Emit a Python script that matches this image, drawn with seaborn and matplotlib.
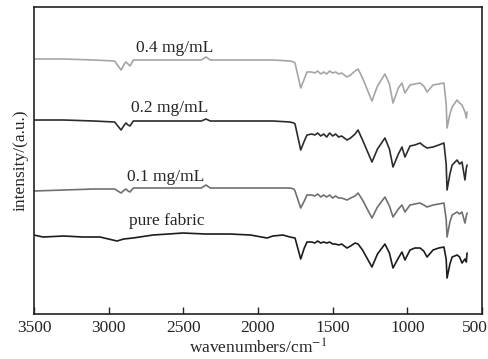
import numpy as np
import pandas as pd
import matplotlib
matplotlib.use('Agg')
import matplotlib.pyplot as plt
import matplotlib.transforms as mtransforms
import seaborn as sns

sns.set_style('white')
plt.rcParams['font.family'] = ['Liberation Serif', 'DejaVu Serif']
plt.rcParams['mathtext.fontset'] = 'stix'

# --- spectra (wavenumber, intensity in a.u.) ---

wn_04 = [3500, 3300, 3100, 2960, 2917, 2895, 2884, 2870, 2857, 2835, 2700, 2380, 2348, 2320,
         2100, 1900, 1786, 1760, 1752, 1714, 1690, 1672, 1640, 1620, 1600, 1580, 1560, 1540,
         1520, 1500, 1480, 1460, 1440,
         1404, 1380, 1350, 1330, 1300, 1237, 1200, 1150, 1120, 1096, 1060, 1036, 1016, 982,
         950, 915, 890, 868, 828, 790, 755, 740, 734, 715, 700, 667, 650, 634, 614, 605, 600]
int_04 = [255, 255, 254, 253, 244, 250, 252, 250, 248, 254, 254, 254, 257, 254,
          254, 254, 253, 252, 251, 226, 235, 242, 242, 241, 243, 240, 242, 240,
          243, 241, 242, 240, 241,
          237, 239, 243, 245, 236, 213, 228, 240, 230, 211, 226, 231, 221, 229,
          230, 231, 228, 222, 229, 230, 231, 210, 186, 200, 207, 214, 211, 209, 202, 196, 202]

wn_02 = [3500, 3300, 3100, 2960, 2917, 2895, 2884, 2870, 2857, 2835, 2700, 2380, 2348, 2320,
         2100, 1900, 1786, 1760, 1752, 1714, 1690, 1672, 1640, 1620, 1600, 1580, 1560, 1540,
         1520, 1500, 1480, 1460, 1440,
         1404, 1380, 1350, 1330, 1300, 1237, 1200, 1150, 1120, 1096, 1060, 1036, 1016, 982,
         950, 915, 890, 868, 828, 790, 755, 740, 734, 715, 700, 667, 650, 634, 614, 605, 600]
int_02 = [194, 194, 193, 192, 184, 189, 191, 189, 188, 193, 193, 193, 195, 193,
          193, 193, 192, 191, 190, 164, 173, 179, 180, 179, 181, 178, 180, 177,
          181, 178, 180, 177, 178,
          174, 176, 180, 184, 174, 152, 165, 176, 165, 147, 160, 167, 157, 168,
          169, 171, 168, 166, 167, 169, 171, 150, 124, 140, 149, 154, 150, 152, 134, 146, 149]

wn_01 = [3500, 3300, 3100, 2960, 2917, 2895, 2884, 2870, 2857, 2835, 2700, 2380, 2348, 2320,
         2100, 1900, 1786, 1760, 1752, 1714, 1690, 1672, 1640, 1620, 1600, 1580, 1560, 1540,
         1520, 1500, 1480, 1460, 1440,
         1404, 1380, 1350, 1330, 1300, 1237, 1200, 1150, 1120, 1096, 1060, 1036, 1016, 982,
         950, 915, 890, 868, 828, 790, 755, 740, 734, 715, 700, 667, 650, 634, 614, 605, 600]
int_01 = [123, 124, 125, 125, 121, 124, 125, 123, 122, 126, 126, 126, 129, 126,
          126, 126, 126, 125, 123, 106, 113, 119, 119, 118, 120, 117, 119, 117,
          119, 116, 118, 116, 116,
          114, 116, 118, 121, 114, 96, 107, 117, 108, 97, 105, 109, 102, 109,
          110, 111, 109, 107, 109, 110, 111, 95, 77, 92, 99, 102, 100, 102, 91, 98, 101]

wn_pf = [3500, 3440, 3300, 3172, 3058, 2944, 2900, 2837, 2703, 2600, 2502, 2350, 2188,
         2050, 1940, 1900, 1833, 1786, 1752, 1714, 1690, 1672, 1640, 1620, 1600, 1580,
         1560, 1540, 1520, 1500, 1480, 1460, 1440, 1404, 1380, 1350, 1330, 1300, 1237,
         1200, 1150, 1120, 1096, 1060,
         1036, 1016, 982, 950, 915, 890, 868, 828, 790, 755, 740, 734, 715, 700, 667,
         650, 634, 614, 605, 600]
int_pf = [79, 77, 78, 77, 77, 73, 75, 76, 79, 80, 81, 80, 80,
          79, 76, 78, 79, 77, 76, 55, 66, 72, 72, 71, 73, 71,
          72, 71, 72, 70, 70, 69, 70, 66, 68, 71, 70, 64, 47,
          60, 70, 61, 46, 56, 62, 54, 64,
          66, 66, 63, 57, 64, 66, 67, 55, 36, 50, 57, 59, 57, 51, 55, 52, 61]

labels = ['0.4 mg/mL', '0.2 mg/mL', '0.1 mg/mL', 'pure fabric']
colors = ['#a5a5a5', '#2c2c2c', '#707070', '#1c1c1c']
label_x = [2556, 2589, 2616, 2609]
label_y = [266, 206, 137, 93]

frames = []
for lab, w, v in zip(labels, [wn_04, wn_02, wn_01, wn_pf], [int_04, int_02, int_01, int_pf]):
    frames.append(pd.DataFrame({'wavenumber': w, 'intensity': v, 'sample': lab}))
df = pd.concat(frames, ignore_index=True)

fig = plt.figure(figsize=(4.89, 3.59), dpi=100)
ax = fig.add_axes([0.0695, 0.1253, 0.9162, 0.8552])

sns.lineplot(data=df, x='wavenumber', y='intensity', hue='sample', palette=colors,
             hue_order=labels, sort=False, estimator=None, linewidth=1.2, legend=False, ax=ax)

for lab, x, y in zip(labels, label_x, label_y):
    ax.text(x, y, lab, ha='center', va='center', fontsize=12.5)

ax.set_xlim(3500, 500)
ax.set_ylim(0, 307)
ax.set_xticks([3500, 3000, 2500, 2000, 1500, 1000, 500])
ax.set_yticks([])
ax.tick_params(axis='x', direction='in', length=5, width=1, labelsize=12.5, pad=4, bottom=True)
ax.set_xlabel('wavenumbers/cm$^{-1}$', fontsize=12.5, labelpad=2)
ax.set_ylabel('intensity/(a.u.)', fontsize=12.5, labelpad=4)
for s in ax.spines.values():
    s.set_color('#222222')
    s.set_linewidth(1.2)

# keep the last tick label inside the figure
fig.canvas.draw()
last = ax.get_xticklabels()[-1]
last.set_transform(last.get_transform() +
                   mtransforms.ScaledTranslation(-7 / 100, 0, fig.dpi_scale_trans))

fig.savefig('out.png', dpi=100)
